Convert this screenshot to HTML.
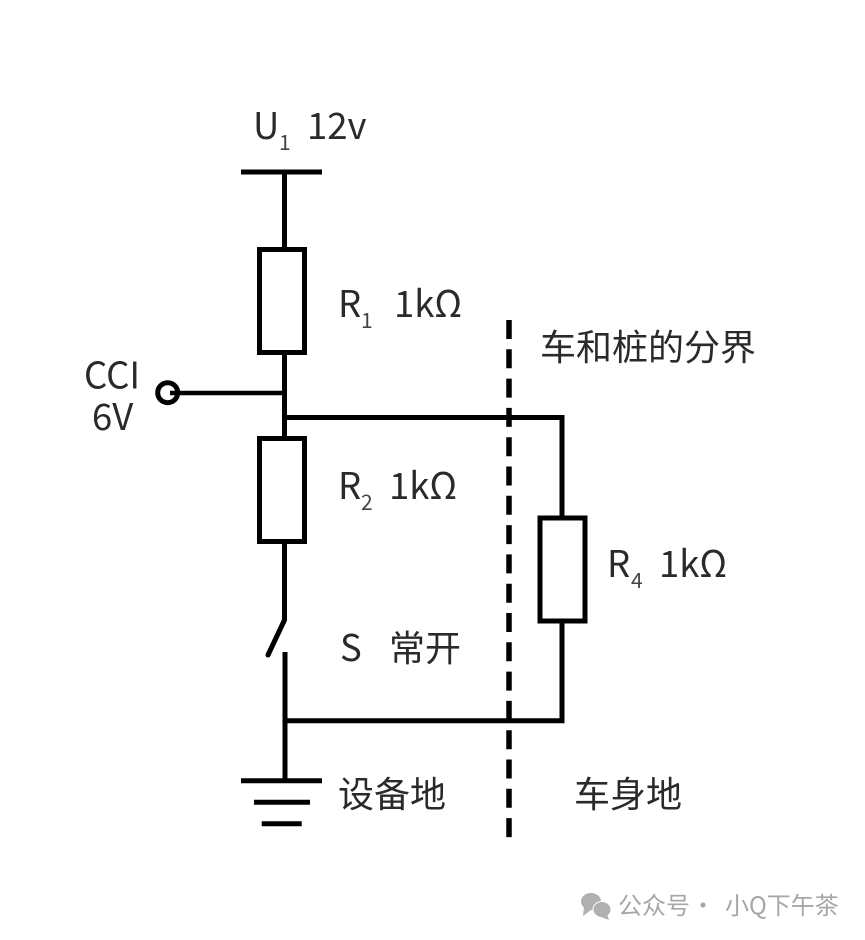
<!DOCTYPE html>
<html>
<head>
<meta charset="utf-8">
<style>
html,body{margin:0;padding:0;background:#fff}
svg{display:block}
text{font-family:"Noto Sans CJK SC","Liberation Sans",sans-serif;fill:#2a2a2a;font-size:36.5px}
.s{font-size:21px;fill:#444}
.c{font-size:36px}
.w{font-size:24px;fill:#a6a6a6}
</style>
</head>
<body>
<svg width="865" height="940" viewBox="0 0 865 940" xmlns="http://www.w3.org/2000/svg">
<rect width="865" height="940" fill="#fff"/>
<g fill="none" stroke="#000" stroke-width="5">
  <path d="M241 172H322"/>
  <path d="M284.500 172V248"/>
  <rect x="259.500" y="249.500" width="45" height="103"/>
  <path d="M284.500 354V437"/>
  <path d="M170 393H284" stroke-width="4.500"/>
  <circle cx="167.700" cy="392.700" r="10"/>
  <path d="M284 417.500H562V517"/>
  <rect x="259.500" y="438.500" width="45" height="103"/>
  <path d="M284.500 543V620L268 655" stroke-linecap="round" stroke-linejoin="round"/>
  <path d="M285 652V781"/>
  <path d="M285 720.700H562V622"/>
  <rect x="540" y="518" width="45" height="103"/>
  <path d="M241 780.700H322"/>
  <path d="M254 802.300H310"/>
  <path d="M261.700 823.700H301.700"/>
  <path d="M509 320V838" stroke-width="5.500" stroke-dasharray="19 10.300"/>
</g>
<text x="253" y="139">U</text><text class="s" x="279" y="150">1</text><text x="307" y="139">12v</text>
<text x="338" y="317">R</text><text class="s" x="361" y="328">1</text><text x="394" y="317">1kΩ</text>
<text x="84" y="388.500">CCI</text>
<text x="92" y="430">6V</text>
<text x="338" y="499">R</text><text class="s" x="361" y="510">2</text><text x="389" y="499">1kΩ</text>
<text x="607" y="577">R</text><text class="s" x="631" y="588">4</text><text x="659" y="577">1kΩ</text>
<text x="340" y="661">S</text>
<text class="c" x="389" y="661">常开</text>
<text class="c" x="338" y="807">设备地</text>
<text class="c" x="574" y="807">车身地</text>
<text class="c" x="540" y="360">车和桩的分界</text>
<g fill="#b0b0b0" stroke="#fff" stroke-width="1">
  <ellipse cx="591" cy="901.500" rx="10.500" ry="9"/>
  <path d="M584 907L583 916L591 910Z" stroke="none"/>
  <ellipse cx="602" cy="909.500" rx="9" ry="8"/>
  <path d="M607 914L609 920L601 917Z" stroke="none"/>
</g>
<text class="w" x="618" y="914">公众号</text>
<text class="w" x="691" y="914">·</text>
<text class="w" x="725" y="914">小Q下午茶</text>
</svg>
</body>
</html>
